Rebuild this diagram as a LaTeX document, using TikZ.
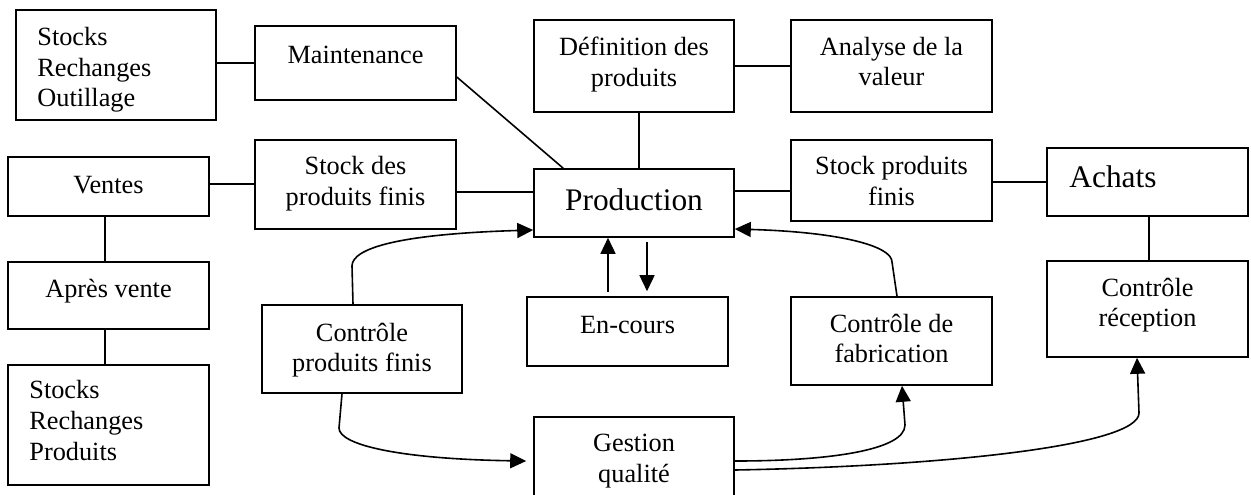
\documentclass[tikz,border=0pt]{standalone}
\usepackage{fontspec}
\setmainfont{Liberation Serif}
\usetikzlibrary{arrows.meta,fit,calc}
\tikzset{
  box/.style={draw, line width=0.8pt, inner sep=0pt},
  txt/.style={inner sep=0pt, align=center, font=\fontsize{13.15pt}{15.3pt}\selectfont},
  bigtxt/.style={inner sep=0pt, font=\fontsize{15.7pt}{18pt}\selectfont},
  conn/.style={line width=0.8pt},
  arr/.style={line width=0.8pt, -{Triangle[length=8pt,width=7.5pt]}},
}
\begin{document}
\begin{tikzpicture}[x=0.5pt,y=-0.5pt]
\useasboundingbox (0,0) rectangle (1251,494);
\clip (0,0) rectangle (1251,494);
\fill[white] (0,0) rectangle (1251,494);

% boxes
\node[box, fit={(16,10) (216,120)}] (sro) {};
\node[box, fit={(255,26) (456,100)}] (maint) {};
\node[box, fit={(8,157) (209,216)}] (ventes) {};
\node[box, fit={(255,140) (456,229)}] (sdpf) {};
\node[box, fit={(534,20) (734,112)}] (def) {};
\node[box, fit={(791,20) (992,112)}] (analyse) {};
\node[box, fit={(534,169) (734,237)}] (prod) {};
\node[box, fit={(791,140) (992,221)}] (spf) {};
\node[box, fit={(1047,148) (1248,216)}] (achats) {};
\node[box, fit={(8,262) (209,329)}] (apres) {};
\node[box, fit={(8,365) (209,485)}] (srp) {};
\node[box, fit={(262,305) (462,393)}] (cpf) {};
\node[box, fit={(527,297) (728,366)}] (encours) {};
\node[box, fit={(791,297) (992,385)}] (cdf) {};
\node[box, fit={(1047,261) (1248,357)}] (crec) {};
\node[box, fit={(534,417) (734,505)}] (gestion) {};

% texts
\node[txt, anchor=west, align=left] (t1) at (37,70) {Stocks\\Rechanges\\Outillage};
\node[txt, anchor=base] (t2) at (355.5,63) {Maintenance};
\node[txt, anchor=base] (t3) at (108.5,193) {Ventes};
\node[txt] (t4) at (355.5,183.5) {Stock des\\produits finis};
\node[txt] (t5) at (634,64.5) {Définition des\\produits};
\node[txt] (t6) at (891.5,61.5) {Analyse de la\\valeur};
\node[bigtxt, anchor=base] (t7) at (634,210) {Production};
\node[txt] (t8) at (891.5,181) {Stock produits\\finis};
\node[bigtxt, anchor=base west] (t9) at (1069,187) {Achats};
\node[txt] (t10) at (1147.5,305) {Contrôle\\réception};
\node[txt] (t11) at (891.5,338.5) {Contrôle de\\fabrication};
\node[txt, anchor=base] (t12) at (627.5,333) {En-cours};
\node[txt] (t13) at (362,350) {Contrôle\\produits finis};
\node[txt] (t14) at (634,461) {Gestion\\qualité};
\node[txt, anchor=base] (t15) at (108.5,297) {Après vente};
\node[txt, anchor=west, align=left] (t16) at (29,420.5) {Stocks\\Rechanges\\Produits};

% plain connectors
\draw[conn] (maint.west -| sro.east) -- (maint.west);
\draw[conn] ($(maint.east)+(0,14)$) -- ($(prod.north west)+(30,0)$);
\draw[conn] ([yshift=0.25pt]sdpf.west -| ventes.east) -- ([yshift=0.25pt]sdpf.west);
\path (prod.west) ++(0,-11) coordinate (pw);
\draw[conn] (pw -| sdpf.east) -- (pw);
\draw[conn] ([xshift=2.5pt]def.south) -- ([xshift=2.5pt]prod.north);
\draw[conn] (def.east) -- (analyse.west);
\path (prod.east) ++(0,-12) coordinate (pe);
\draw[conn] (pe) -- (pe -| spf.west);
\draw[conn] (achats.west -| spf.east) -- (achats.west);
\draw[conn] ([xshift=0.75pt]achats.south) -- ([xshift=0.75pt]crec.north);
\draw[conn] ([xshift=-1.75pt]ventes.south) -- ([xshift=-1.75pt]apres.north);
\draw[conn] ([xshift=-1.75pt]apres.south) -- ([xshift=-1.75pt]srp.north);

% arrows
\draw[arr] ([xshift=-9.75pt,yshift=2pt]encours.north) -- ([xshift=-13pt]prod.south);
\draw[arr] ([xshift=6.5pt,yshift=-2pt]prod.south) -- ([xshift=9.75pt,yshift=2.5pt]encours.north);
\draw[arr] ([xshift=-4.5pt]cpf.north) -- (352,266) .. controls (352,248) and (400,234) .. ([yshift=-13.5pt]prod.west);
\draw[arr] ([xshift=2.75pt]cdf.north) -- (892,262) .. controls (892,246) and (840,232) .. ([yshift=-13pt]prod.east);
\draw[arr] ([xshift=-10pt]cpf.south) -- (339,428) .. controls (339,445) and (400,459) .. ([xshift=-3.5pt]gestion.west);
\draw[arr] (gestion.east) .. controls (830,461) and (905,450) .. (905,425) -- ([xshift=5.25pt]cdf.south);
\draw[arr] ([yshift=-4.5pt]gestion.east) .. controls (950,466) and (1139,445) .. (1139,413) -- ([xshift=-5.25pt]crec.south);
\end{tikzpicture}
\end{document}
